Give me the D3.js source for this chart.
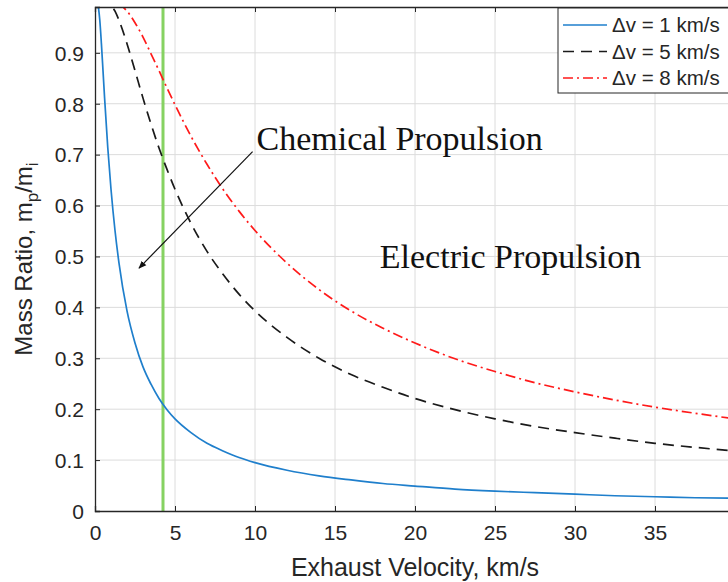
<!DOCTYPE html>
<html>
<head>
<meta charset="utf-8">
<script src="https://cdn.jsdelivr.net/npm/d3@7"></script>
<style>
  html, body { margin: 0; padding: 0; background: #fff; }
  svg { display: block; }
</style>
</head>
<body>
<svg id="chart" width="728" height="582"></svg>
<script>
// Exhaust velocity samples (km/s)
const exhaustVelocity = [0.2, 0.3, 0.4, 0.5, 0.6, 0.8, 1, 1.25, 1.5, 2, 2.5, 3, 3.5, 4, 4.5, 5,
  6, 7, 8, 9, 10, 12, 14, 16, 18, 20, 22.5, 25, 27.5, 30, 32.5, 35, 37.5, 40];

// Propellant mass ratio m_p/m_i for each Δv
const ratioDv1 = [0.993, 0.964, 0.918, 0.865, 0.811, 0.713, 0.632, 0.551, 0.487, 0.393, 0.330, 0.283, 0.249, 0.221, 0.199, 0.181,
  0.154, 0.133, 0.118, 0.105, 0.095, 0.080, 0.069, 0.061, 0.054, 0.049, 0.043, 0.039, 0.036, 0.033, 0.030, 0.028, 0.026, 0.025];
const ratioDv5 = [1.000, 1.000, 1.000, 1.000, 1.000, 0.998, 0.993, 0.982, 0.964, 0.918, 0.865, 0.811, 0.760, 0.713, 0.671, 0.632,
  0.565, 0.510, 0.465, 0.426, 0.393, 0.341, 0.300, 0.268, 0.243, 0.221, 0.199, 0.181, 0.166, 0.154, 0.143, 0.133, 0.125, 0.118];
const ratioDv8 = [1.000, 1.000, 1.000, 1.000, 1.000, 1.000, 1.000, 0.998, 0.995, 0.982, 0.959, 0.931, 0.898, 0.865, 0.831, 0.798,
  0.736, 0.681, 0.632, 0.589, 0.551, 0.487, 0.435, 0.393, 0.359, 0.330, 0.299, 0.274, 0.252, 0.234, 0.218, 0.204, 0.192, 0.181];

const seriesLabels = ["\u0394v = 1 km/s", "\u0394v = 5 km/s", "\u0394v = 8 km/s"];
const xTicks = [0, 5, 10, 15, 20, 25, 30, 35, 40];
const xTickLabels = ["0", "5", "10", "15", "20", "25", "30", "35", ""];
const yTicks = [0, 0.1, 0.2, 0.3, 0.4, 0.5, 0.6, 0.7, 0.8, 0.9];
const yTickLabels = ["0", "0.1", "0.2", "0.3", "0.4", "0.5", "0.6", "0.7", "0.8", "0.9"];

// Chemical/electric boundary exhaust velocity (km/s)
const chemicalLimit = 4.25;
// Annotation arrow: from [velocity, ratio] to [velocity, ratio]
const arrowFrom = [9.85, 0.706];
const arrowTo = [2.75, 0.477];
const chemicalLabelAt = [10.1, 0.71];
const electricLabelAt = [17.8, 0.477];

const svg = d3.select("#chart");
const plotLeft = 95, plotRight = 735, plotTop = 7, plotBottom = 511;
const x = d3.scaleLinear().domain([0, 40]).range([plotLeft, plotRight]);
const y = d3.scaleLinear().domain([0, 0.99]).range([plotBottom, plotTop]);
const ink = "#262626";

const defs = svg.append("defs");
defs.append("clipPath").attr("id", "plotClip")
  .append("rect").attr("x", plotLeft).attr("y", plotTop)
  .attr("width", plotRight - plotLeft).attr("height", plotBottom - plotTop);
defs.append("marker")
  .attr("id", "arrowHead").attr("viewBox", "0 0 10 10").attr("refX", 9).attr("refY", 5)
  .attr("markerWidth", 8).attr("markerHeight", 8).attr("orient", "auto")
  .attr("markerUnits", "userSpaceOnUse")
  .append("path").attr("d", "M0,1 L10,5 L0,9 Z").attr("fill", "#111");

// Grid
const grid = svg.append("g");
grid.selectAll("line.gx").data(xTicks.slice(1)).join("line").attr("class", "gx")
  .attr("x1", d => x(d)).attr("x2", d => x(d)).attr("y1", plotTop).attr("y2", plotBottom)
  .attr("stroke", "#dcdcdc").attr("stroke-width", 1);
grid.selectAll("line.gy").data(yTicks.slice(1)).join("line").attr("class", "gy")
  .attr("x1", plotLeft).attr("x2", plotRight).attr("y1", d => y(d)).attr("y2", d => y(d))
  .attr("stroke", "#dcdcdc").attr("stroke-width", 1);

// Boundary between chemical and electric propulsion
svg.append("line")
  .attr("x1", x(chemicalLimit)).attr("x2", x(chemicalLimit)).attr("y1", plotTop).attr("y2", plotBottom)
  .attr("stroke", "#86d262").attr("stroke-width", 3);

// Curves
const plot = svg.append("g").attr("clip-path", "url(#plotClip)");
const line = d3.line().x(d => x(d[0])).y(d => y(d[1])).curve(d3.curveMonotoneX);
const series = [
  { values: ratioDv1, color: "#1f7fcc", dash: null },
  { values: ratioDv5, color: "#1a1a1a", dash: "11,7" },
  { values: ratioDv8, color: "#ff1a1a", dash: "10,4,2,4" }
];
series.forEach(s => {
  plot.append("path")
    .datum(exhaustVelocity.map((v, i) => [v, s.values[i]]))
    .attr("d", line).attr("fill", "none")
    .attr("stroke", s.color).attr("stroke-width", 1.7)
    .attr("stroke-dasharray", s.dash);
});

// Axes (ticks inside, box on top)
const xAxis = svg.append("g").attr("transform", `translate(0,${plotBottom})`)
  .call(d3.axisBottom(x).tickValues(xTicks).tickSize(-5).tickPadding(14)
    .tickFormat((d, i) => xTickLabels[i]));
const yAxis = svg.append("g").attr("transform", `translate(${plotLeft},0)`)
  .call(d3.axisLeft(y).tickValues(yTicks).tickSize(-5).tickPadding(11)
    .tickFormat((d, i) => yTickLabels[i]));
const xTop = svg.append("g").attr("transform", `translate(0,${plotTop})`)
  .call(d3.axisTop(x).tickValues(xTicks).tickSize(-5).tickFormat(""));
[xAxis, yAxis, xTop].forEach(g => {
  g.select(".domain").attr("stroke", ink).attr("stroke-width", 1.3);
  g.selectAll(".tick line").attr("stroke", ink).attr("stroke-width", 1);
  g.selectAll(".tick text").attr("fill", ink)
    .style("font-family", "'Liberation Sans', Arial, sans-serif").style("font-size", "21px");
});
xAxis.selectAll(".tick text").attr("dy", "0.72em");
yAxis.selectAll(".tick text").attr("dy", "0.35em");

// Axis titles
svg.append("text")
  .attr("x", (plotLeft + plotRight) / 2).attr("y", 576)
  .attr("text-anchor", "middle").attr("fill", ink)
  .style("font-family", "'Liberation Sans', Arial, sans-serif").style("font-size", "25px")
  .text("Exhaust Velocity, km/s");
const yTitle = svg.append("text")
  .attr("transform", `translate(32,${(plotTop + plotBottom) / 2}) rotate(-90)`)
  .attr("text-anchor", "middle").attr("fill", ink)
  .style("font-family", "'Liberation Sans', Arial, sans-serif").style("font-size", "24px");
yTitle.append("tspan").text("Mass Ratio, m");
yTitle.append("tspan").attr("dy", 6).style("font-size", "17px").text("p");
yTitle.append("tspan").attr("dy", -6).text("/m");
yTitle.append("tspan").attr("dy", 6).style("font-size", "17px").text("i");

// Annotations
svg.append("line")
  .attr("x1", x(arrowFrom[0])).attr("y1", y(arrowFrom[1]))
  .attr("x2", x(arrowTo[0])).attr("y2", y(arrowTo[1]))
  .attr("stroke", "#111").attr("stroke-width", 1.2).attr("marker-end", "url(#arrowHead)");
svg.append("text")
  .attr("x", x(chemicalLabelAt[0])).attr("y", y(chemicalLabelAt[1]))
  .attr("fill", "#111")
  .style("font-family", "'Liberation Serif', 'Times New Roman', serif").style("font-size", "34px")
  .text("Chemical Propulsion");
svg.append("text")
  .attr("x", x(electricLabelAt[0])).attr("y", y(electricLabelAt[1]))
  .attr("fill", "#111")
  .style("font-family", "'Liberation Serif', 'Times New Roman', serif").style("font-size", "34px")
  .text("Electric Propulsion");

// Legend
const legend = svg.append("g").attr("transform", "translate(558,8)");
legend.append("rect").attr("x", 0).attr("y", 0).attr("width", 200).attr("height", 85)
  .attr("fill", "#fff").attr("stroke", ink).attr("stroke-width", 1);
series.forEach((s, i) => {
  const cy = 17 + i * 26.5;
  legend.append("line").attr("x1", 5).attr("x2", 49).attr("y1", cy).attr("y2", cy)
    .attr("stroke", s.color).attr("stroke-width", 1.5).attr("stroke-dasharray", s.dash);
  legend.append("text").attr("x", 54).attr("y", cy).attr("dy", "0.35em")
    .attr("fill", ink)
    .style("font-family", "'Liberation Sans', Arial, sans-serif").style("font-size", "20.5px")
    .text(seriesLabels[i]);
});
</script>
</body>
</html>
